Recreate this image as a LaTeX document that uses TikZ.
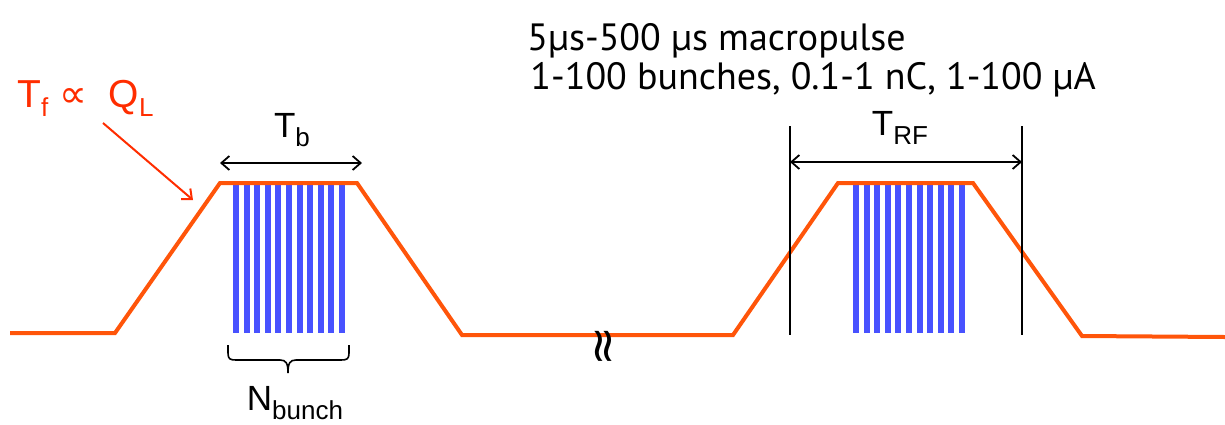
\documentclass[tikz,border=0pt]{standalone}
\usepackage{fontspec}
\setmainfont{Liberation Sans}
\newfontfamily\topfont{PT Sans}
\newfontfamily\symfont{DejaVu Sans}
\usetikzlibrary{arrows.meta}
\definecolor{wave}{RGB}{255,85,10}
\definecolor{bunchcol}{RGB}{72,82,255}
\definecolor{redtxt}{RGB}{255,45,0}
\newcommand\lowsub[1]{\raisebox{-4.5pt}{\fontsize{13}{13}\selectfont #1}}
\tikzset{
  wavestyle/.style={wave, line width=2pt, line join=miter},
  barstyle/.style={fill=bunchcol, draw=none},
  dimarrow/.style={black, line width=0.9pt, {Straight Barb[length=4pt,width=7pt]}-{Straight Barb[length=4pt,width=7pt]}},
  guideline/.style={black, line width=0.6pt},
  lab/.style={inner sep=0pt, font=\fontsize{17.5}{18}\selectfont},
  toptext/.style={inner sep=0pt, anchor=base west, font=\topfont\fontsize{19}{20}\selectfont},
  redarrow/.style={redtxt, line width=1pt, -{Straight Barb[length=4pt,width=7pt]}}
}
\begin{document}
\begin{tikzpicture}[x=0.5pt,y=-0.5pt]
\useasboundingbox (0,0) rectangle (1225,424);
% bunches
\foreach \i in {0,...,10} {
  \fill[barstyle] ({233+\i*10.6},183) rectangle +(6,150);
  \fill[barstyle] ({853+\i*10.6},183) rectangle +(6,150);
}
% waveform
\draw[wavestyle] (10,333) -- (115,333) -- (220,183) -- (357,183) -- (462,335) -- (733,335) -- (838,183) -- (973,183) -- (1082,336) -- (1225,337);
% Tb
\coordinate (tbL) at (220,163);
\coordinate (tbR) at (362,163);
\draw[dimarrow] (tbL) -- (tbR);
\node[lab, anchor=base] (tb) at (292,137) {T\lowsub{b}};
% TRF
\coordinate (v1t) at (790,126);
\coordinate (v1b) at (790,335);
\coordinate (v2t) at (1022,126);
\coordinate (v2b) at (1022,335);
\draw[guideline] (v1t) -- (v1b);
\draw[guideline] (v2t) -- (v2b);
\coordinate (trfL) at (790,162);
\coordinate (trfR) at (1022,162);
\draw[dimarrow] (trfL) -- (trfR);
\node[lab, anchor=base] (trf) at (900,135) {T\lowsub{RF}};
% brace
\draw[black, line width=0.8pt] (228,345) -- (228,353) .. controls (228,359) and (230,360) .. (236,360) -- (280,360) .. controls (286,360) and (288,363) .. (288,373) .. controls (288,363) and (290,360) .. (296,360) -- (341,360) .. controls (347,360) and (349,359) .. (349,353) -- (349,345);
\node[lab, anchor=base] (nb) at (295,410) {N\lowsub{bunch}};
% gap symbol
\node[rotate=90, inner sep=0pt, font=\symfont\fontsize{24}{24}\selectfont] (gap) at (607,346) {≈};
% Tf label
\node[inner sep=0pt, anchor=base west, text=redtxt, font=\fontsize{19.5}{20}\selectfont] (tf) at (17,107) {T\lowsub{f} {\symfont ∝}\ \ Q\lowsub{L}};
\coordinate (tfs) at (103,123);
\coordinate (tfe) at (193,200);
\draw[redarrow] (tfs) -- (tfe);
% top text
\node[toptext] (l1) at (527,50) {5μs-500 μs macropulse};
\node[toptext] (l2) at (530,89) {1-100 bunches, 0.1-1 nC, 1-100 μA};
\end{tikzpicture}
\end{document}
